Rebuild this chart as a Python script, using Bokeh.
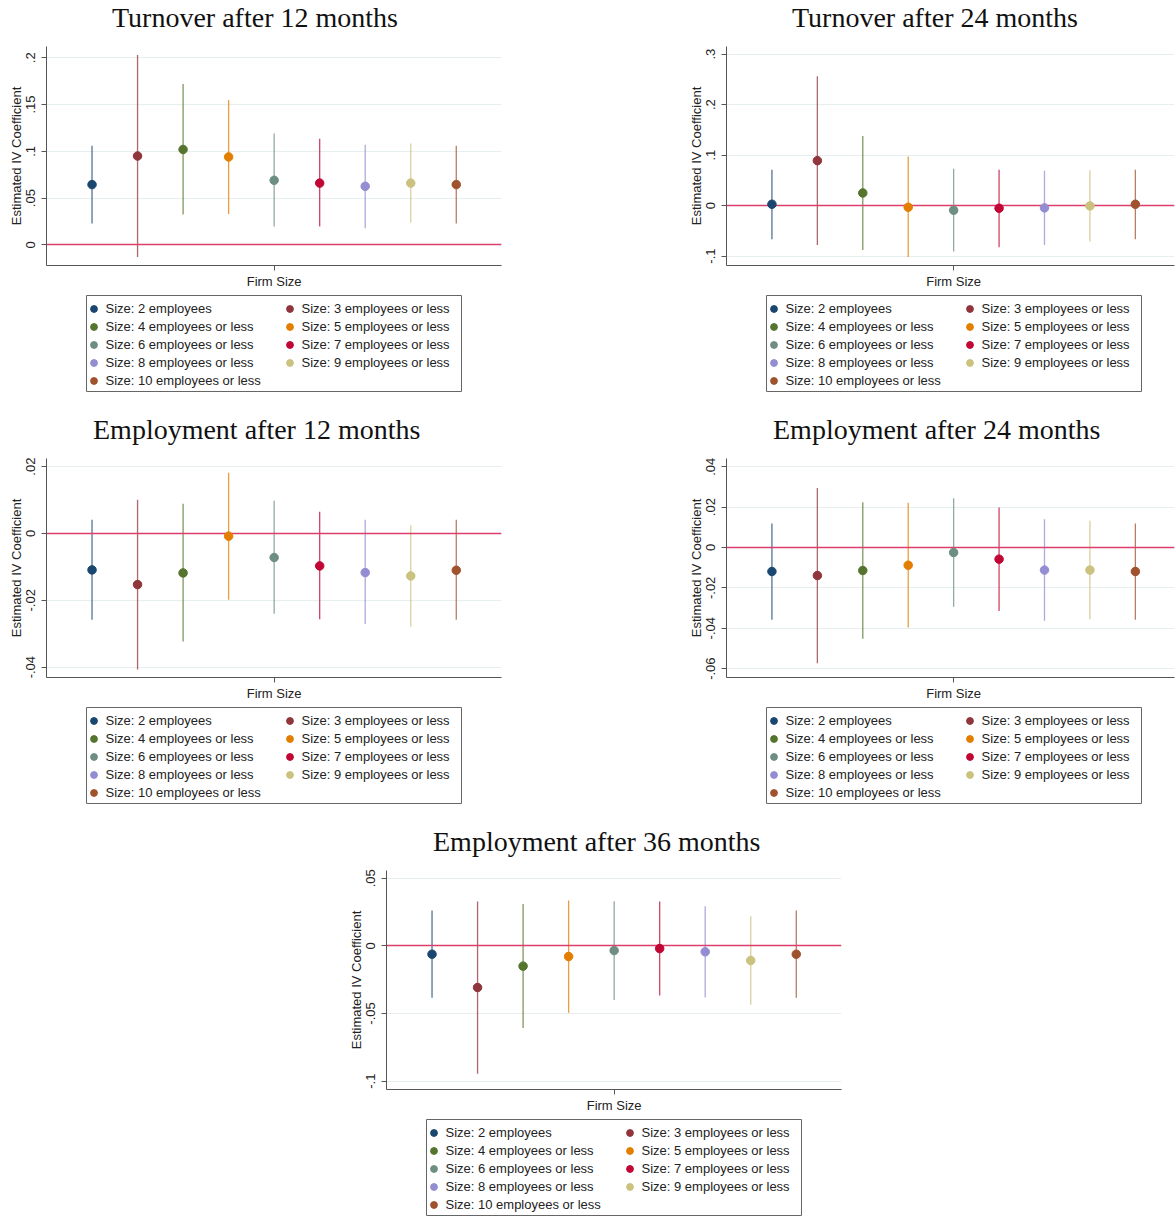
from bokeh.plotting import figure
from bokeh.models import (Range1d, FixedTicker, Legend, LegendItem,
                          ColumnDataSource, Spacer)
from bokeh.layouts import column, row
from bokeh.embed import file_html
from bokeh.resources import INLINE

# ---------------- data ----------------
categories = [
    "Size: 2 employees", "Size: 3 employees or less", "Size: 4 employees or less",
    "Size: 5 employees or less", "Size: 6 employees or less", "Size: 7 employees or less",
    "Size: 8 employees or less", "Size: 9 employees or less", "Size: 10 employees or less",
]
positions = [1, 2, 3, 4, 5, 6, 7, 8, 9]
colors = ["#1a476f", "#90353b", "#55752f", "#e37e00", "#6e8e84",
          "#c10534", "#938dd2", "#cac27e", "#a0522d"]
# legend reading order (two columns, filled row by row)
legend_order = [0, 2, 4, 6, 8, 1, 3, 5, 7]

titles = ["Turnover after 12 months", "Turnover after 24 months",
          "Employment after 12 months", "Employment after 24 months",
          "Employment after 36 months"]

turn12_est = [0.0644, 0.095, 0.102, 0.094, 0.069, 0.066, 0.0626, 0.066, 0.0644]
turn12_lo = [0.0228, -0.013, 0.0324, 0.033, 0.0196, 0.0196, 0.0178, 0.0238, 0.0228]
turn12_hi = [0.106, 0.203, 0.172, 0.155, 0.119, 0.1135, 0.107, 0.1085, 0.106]

turn24_est = [0.0026, 0.089, 0.025, -0.0033, -0.0092, -0.0053, -0.0046, -0.0007, 0.0026]
turn24_lo = [-0.0666, -0.078, -0.088, -0.102, -0.091, -0.0824, -0.078, -0.071, -0.0666]
turn24_hi = [0.071, 0.256, 0.138, 0.097, 0.073, 0.071, 0.069, 0.070, 0.071]

emp12_est = [-0.0109, -0.0153, -0.0118, -0.0008, -0.0072, -0.0097, -0.0117, -0.0127, -0.0110]
emp12_lo = [-0.0258, -0.0407, -0.0323, -0.0198, -0.0240, -0.0257, -0.0271, -0.0279, -0.0258]
emp12_hi = [0.0041, 0.0101, 0.0089, 0.0182, 0.0098, 0.0065, 0.0041, 0.0025, 0.0041]

emp24_est = [-0.0119, -0.0139, -0.0114, -0.0088, -0.0025, -0.0058, -0.0112, -0.0112, -0.0119]
emp24_lo = [-0.0358, -0.0574, -0.0452, -0.0396, -0.0294, -0.0315, -0.0363, -0.0355, -0.0358]
emp24_hi = [0.0119, 0.0295, 0.0224, 0.0221, 0.0244, 0.0198, 0.0140, 0.0132, 0.0119]

emp36_est = [-0.0062, -0.0308, -0.0150, -0.0079, -0.0035, -0.0020, -0.0044, -0.0108, -0.0062]
emp36_lo = [-0.0384, -0.0946, -0.0608, -0.0495, -0.0401, -0.0367, -0.0382, -0.0436, -0.0384]
emp36_hi = [0.0261, 0.0328, 0.0310, 0.0335, 0.0330, 0.0328, 0.0293, 0.0219, 0.0261]

turn12_ticks = [0, 0.05, 0.1, 0.15, 0.2]
turn12_ticklabels = ["0", ".05", ".1", ".15", ".2"]
turn24_ticks = [-0.1, 0, 0.1, 0.2, 0.3]
turn24_ticklabels = ["-.1", "0", ".1", ".2", ".3"]
emp12_ticks = [-0.04, -0.02, 0, 0.02]
emp12_ticklabels = ["-.04", "-.02", "0", ".02"]
emp24_ticks = [-0.06, -0.04, -0.02, 0, 0.02, 0.04]
emp24_ticklabels = ["-.06", "-.04", "-.02", "0", ".02", ".04"]
emp36_ticks = [-0.1, -0.05, 0, 0.05]
emp36_ticklabels = ["-.1", "-.05", "0", ".05"]

turn12_ylim = (-0.0221, 0.2121)
turn24_ylim = (-0.1187, 0.3151)
emp12_ylim = (-0.0431, 0.02244)
emp24_ylim = (-0.0644, 0.04406)
emp36_ylim = (-0.1062, 0.0557)

x_label = "Firm Size"
y_label = "Estimated IV Coefficient"

# ---------------- style / layout ----------------
SANS = "Liberation Sans"
SERIF = "Liberation Serif"
ZERO_COLOR = "#dc3f6c"
GRID_COLOR = "#e6eef0"
AXIS_COLOR = "#555555"
FRAME_W = 455
FRAME_H = 219
BORDER_L = 46
TITLE_H = 40          # strip holding the title
PLOT_TOP = 6
PLOT_H = 254
LEG_W = 377
LEG_H = 98
LEG_X = 85
PANEL_H = 412


def make_title(text, width, x_start):
    t = figure(width=width, height=TITLE_H, output_backend="svg",
               toolbar_location=None, x_range=Range1d(100, 101),
               y_range=Range1d(100, 101), min_border=1)
    t.axis.visible = False
    t.grid.visible = False
    t.outline_line_color = None
    t.border_fill_color = "white"
    t.background_fill_color = "white"
    dummy = t.scatter([0], [0], size=1, fill_alpha=0, line_alpha=0)
    # the strip's frame is aligned with the plot frame below (left edge at BORDER_L)
    lg = Legend(items=[LegendItem(label=text, renderers=[dummy])],
                location=(x_start - BORDER_L, 5.5), label_text_font=SERIF,
                label_text_font_size="28px", label_text_color="#111111",
                glyph_width=0, glyph_height=31, label_height=31,
                label_standoff=0, padding=0, spacing=0, margin=0,
                border_line_color=None, background_fill_alpha=0.0)
    t.add_layout(lg)
    return t


def make_panel(est, lo, hi, ticks, ticklabels, ylim, width, frame_w=FRAME_W):
    x_end = 10.0 * frame_w / 455.3
    p = figure(width=width, height=PLOT_H, output_backend="svg",
               toolbar_location=None, title=None,
               x_range=Range1d(0, x_end), y_range=Range1d(*ylim),
               min_border_left=BORDER_L, min_border_top=PLOT_TOP,
               min_border_right=width - BORDER_L - frame_w,
               min_border_bottom=PLOT_H - PLOT_TOP - FRAME_H)
    p.outline_line_color = None
    p.background_fill_color = "white"
    p.border_fill_color = "white"

    src = ColumnDataSource(dict(x=positions, est=est, lo=lo, hi=hi,
                                color=colors, label=categories))
    p.segment(x0="x", y0="lo", x1="x", y1="hi", source=src,
              line_color="color", line_width=1.3, line_alpha=0.75)
    p.hspan(y=[0], line_color=ZERO_COLOR, line_width=1.4)
    p.scatter("x", "est", source=src, size=8.5,
              fill_color="color", line_color="color")

    # axes
    p.xaxis.ticker = FixedTicker(ticks=[5])
    p.xaxis.major_label_overrides = {5: x_label}
    p.yaxis.ticker = FixedTicker(ticks=ticks)
    p.yaxis.major_label_overrides = dict(zip(ticks, ticklabels))
    p.yaxis.major_label_orientation = "vertical"
    p.yaxis.axis_label = y_label
    for ax in (p.xaxis[0], p.yaxis[0]):
        ax.axis_line_color = AXIS_COLOR
        ax.major_tick_line_color = AXIS_COLOR
        ax.minor_tick_line_color = None
        ax.major_tick_in = 0
        ax.major_tick_out = 5
        ax.major_label_text_font = SANS
        ax.major_label_text_font_size = "13px"
        ax.major_label_text_color = "#222222"
        ax.major_label_standoff = 3
        ax.axis_label_text_font = SANS
        ax.axis_label_text_font_size = "13px"
        ax.axis_label_text_font_style = "normal"
        ax.axis_label_text_color = "#222222"
        ax.axis_label_standoff = 0
    p.yaxis.major_label_standoff = 6
    p.xgrid.visible = False
    p.ygrid.grid_line_color = GRID_COLOR
    p.ygrid.grid_line_width = 1
    return p, src


def make_legend(src):
    lf = figure(width=LEG_W, height=LEG_H, output_backend="svg",
                toolbar_location=None, x_range=Range1d(100, 101),
                y_range=Range1d(100, 101), min_border=1)
    lf.axis.visible = False
    lf.grid.visible = False
    lf.outline_line_color = "#666666"
    lf.outline_line_width = 1
    lf.border_fill_color = "white"
    lf.background_fill_color = "white"
    r = lf.scatter("x", "est", source=src, size=8.5,
                   fill_color="color", line_color="color")
    items = [LegendItem(label=categories[i], renderers=[r], index=i)
             for i in legend_order]
    legend = Legend(items=items, location=(-1.5, 2.5), ncols=2,
                    label_text_font=SANS, label_text_font_size="13px",
                    label_text_color="#222222",
                    glyph_width=17, glyph_height=17, label_height=17,
                    label_width=174, label_standoff=4, padding=0, spacing=1,
                    margin=0, border_line_color=None,
                    background_fill_alpha=0.0)
    lf.add_layout(legend)
    return lf


def panel_block(title, title_x, est, lo, hi, ticks, ticklabels, ylim, width,
                frame_w=FRAME_W, pad_bottom=True):
    t = make_title(title, width, title_x)
    p, src = make_panel(est, lo, hi, ticks, ticklabels, ylim, width, frame_w)
    lf = make_legend(src)
    children = [t, p, row(Spacer(width=LEG_X, height=LEG_H), lf)]
    rest = PANEL_H - TITLE_H - PLOT_H - LEG_H
    if pad_bottom and rest > 0:
        children.append(Spacer(width=10, height=rest))
    return column(*children)


b1 = panel_block(titles[0], 112, turn12_est, turn12_lo, turn12_hi, turn12_ticks,
                 turn12_ticklabels, turn12_ylim, 680)
b2 = panel_block(titles[1], 112, turn24_est, turn24_lo, turn24_hi, turn24_ticks,
                 turn24_ticklabels, turn24_ylim, 495, frame_w=449)
b3 = panel_block(titles[2], 93, emp12_est, emp12_lo, emp12_hi, emp12_ticks,
                 emp12_ticklabels, emp12_ylim, 680)
b4 = panel_block(titles[3], 93, emp24_est, emp24_lo, emp24_hi, emp24_ticks,
                 emp24_ticklabels, emp24_ylim, 495, frame_w=449)
b5 = panel_block(titles[4], 93, emp36_est, emp36_lo, emp36_hi, emp36_ticks,
                 emp36_ticklabels, emp36_ylim, 520, pad_bottom=False)

layout = column(
    row(b1, b2),
    row(b3, b4),
    row(Spacer(width=340, height=TITLE_H + PLOT_H + LEG_H), b5),
)

open("out.html", "w").write(file_html(layout, INLINE))
